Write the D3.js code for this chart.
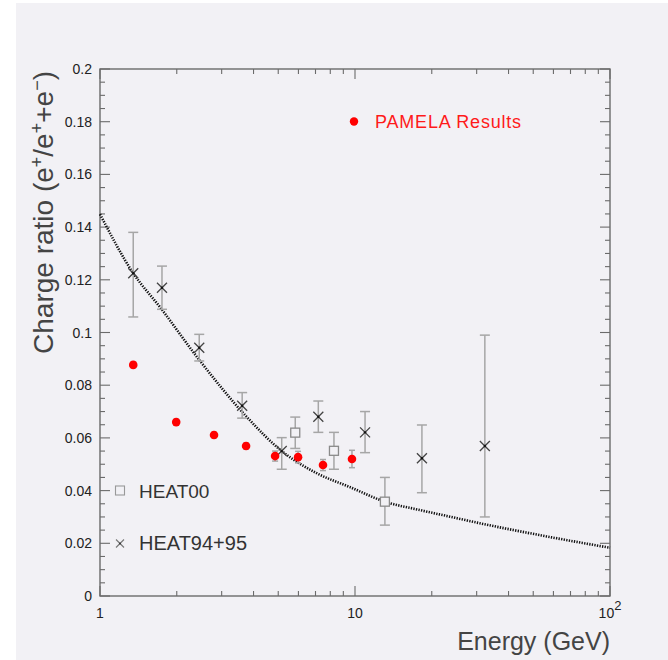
<!DOCTYPE html>
<html>
<head>
<meta charset="utf-8">
<script src="https://cdn.jsdelivr.net/npm/d3@7"></script>
<style>
  html, body { margin: 0; padding: 0; background: #ffffff; }
  svg { display: block; font-family: "Liberation Sans", Arial, Helvetica, sans-serif; }
</style>
</head>
<body>
<svg id="chart" width="668" height="660"></svg>
<script>
// PAMELA positron fraction
const pamelaEnergy = [1.35, 1.99, 2.80, 3.74, 4.86, 5.98, 7.49, 9.73];
const pamelaRatio  = [0.0877, 0.0660, 0.0611, 0.0569, 0.0531, 0.0527, 0.0497, 0.0520];
const pamelaError  = [0.0010, 0.0010, 0.0010, 0.0011, 0.0019, 0.0022, 0.0021, 0.0033];

// HEAT 94+95 flights
const heat9495Energy = [1.35, 1.75, 2.45, 3.61, 5.16, 7.18, 10.95, 18.3, 32.3];
const heat9495Ratio  = [0.1225, 0.1170, 0.0942, 0.0722, 0.0550, 0.0680, 0.0621, 0.0523, 0.0569];
const heat9495High   = [0.1380, 0.1252, 0.0993, 0.0772, 0.0601, 0.0740, 0.0700, 0.0649, 0.0990];
const heat9495Low    = [0.1059, 0.1088, 0.0892, 0.0675, 0.0481, 0.0621, 0.0544, 0.0392, 0.0300];

// HEAT 2000 flight
const heat00Energy = [5.83, 8.27, 13.1];
const heat00Ratio  = [0.0620, 0.0551, 0.0358];
const heat00High   = [0.0679, 0.0621, 0.0450];
const heat00Low    = [0.0560, 0.0481, 0.0269];

// Secondary production prediction
const modelEnergy = [1, 1.35, 1.72, 2.45, 3.76, 5.16, 7.08, 9.57, 13.1, 18, 23.6, 30.9, 48.6, 100];
const modelRatio  = [0.1449, 0.1225, 0.1096, 0.0896, 0.0680, 0.0550, 0.0466, 0.0413, 0.0358, 0.0326, 0.0301, 0.0276, 0.0238, 0.0183];

// Axis ticks
const xTickValues = [1, 10, 100];
const xTickLabels = ["1", "10", "10^2"];
const yTickValues = [0, 0.02, 0.04, 0.06, 0.08, 0.1, 0.12, 0.14, 0.16, 0.18, 0.2];
const yTickLabels = ["0", "0.02", "0.04", "0.06", "0.08", "0.1", "0.12", "0.14", "0.16", "0.18", "0.2"];

const svg = d3.select("#chart");
const W = 668, H = 660;
const frame = { left: 100, right: 610, top: 69, bottom: 596 };
const panelColor = "#f2f1f5";

svg.append("rect").attr("x", 16).attr("y", 3).attr("width", W - 16).attr("height", H - 3)
  .attr("fill", panelColor);

const x = d3.scaleLog().domain([1, 100]).range([frame.left, frame.right]);
const y = d3.scaleLinear().domain([0, 0.2]).range([frame.bottom, frame.top]);

const axisColor = "#6b6b6b";
const g = svg.append("g");

// Frame
g.append("rect")
  .attr("x", frame.left).attr("y", frame.top)
  .attr("width", frame.right - frame.left).attr("height", frame.bottom - frame.top)
  .attr("fill", "none").attr("stroke", axisColor).attr("stroke-width", 1.4);

// Ticks on all four sides, drawn inward
const xMinor = [];
[1, 10].forEach(d => { for (let k = 2; k <= 9; k++) xMinor.push(d * k); });
const yMinor = d3.range(0, 0.2001, 0.005).filter(v => Math.abs(Math.round(v / 0.02) * 0.02 - v) > 1e-6);

function tickLines(vals, len, side) {
  vals.forEach(v => {
    let x1, y1, x2, y2;
    if (side === "bottom") { x1 = x2 = x(v); y1 = frame.bottom; y2 = frame.bottom - len; }
    if (side === "top")    { x1 = x2 = x(v); y1 = frame.top; y2 = frame.top + len; }
    if (side === "left")   { y1 = y2 = y(v); x1 = frame.left; x2 = frame.left + len; }
    if (side === "right")  { y1 = y2 = y(v); x1 = frame.right; x2 = frame.right - len; }
    g.append("line").attr("x1", x1).attr("y1", y1).attr("x2", x2).attr("y2", y2)
      .attr("stroke", axisColor).attr("stroke-width", 1.1);
  });
}
tickLines(xTickValues, 10, "bottom"); tickLines(xMinor, 5, "bottom");
tickLines(xTickValues, 10, "top");    tickLines(xMinor, 5, "top");
tickLines(yTickValues, 10, "left");   tickLines(yMinor, 5, "left");
tickLines(yTickValues, 10, "right");  tickLines(yMinor, 5, "right");

// Tick labels
yTickValues.forEach((v, i) => {
  g.append("text").attr("x", frame.left - 8).attr("y", y(v) + 5)
    .attr("text-anchor", "end").attr("font-size", 14).attr("fill", "#222")
    .text(yTickLabels[i]);
});
xTickValues.forEach((v, i) => {
  const parts = xTickLabels[i].split("^");
  const t = g.append("text").attr("x", x(v)).attr("y", 618)
    .attr("text-anchor", "middle").attr("font-size", 14).attr("fill", "#222");
  t.append("tspan").text(parts[0]);
  if (parts[1]) t.append("tspan").attr("dy", -8).attr("font-size", 13).text(parts[1]);
});

// Axis titles
g.append("text").attr("x", frame.right).attr("y", 650)
  .attr("text-anchor", "end").attr("font-size", 25).attr("fill", "#444")
  .text("Energy (GeV)");

const yt = g.append("text").attr("transform", `translate(53,${frame.top + 2}) rotate(-90)`)
  .attr("text-anchor", "end").attr("font-size", 28).attr("fill", "#444");
yt.append("tspan").text("Charge ratio (e");
yt.append("tspan").attr("dy", -10).attr("font-size", 18).text("+");
yt.append("tspan").attr("dy", 10).text("/e");
yt.append("tspan").attr("dy", -10).attr("font-size", 18).text("+");
yt.append("tspan").attr("dy", 10).text("+e");
yt.append("tspan").attr("dy", -10).attr("font-size", 18).text("\u2212");
yt.append("tspan").attr("dy", 10).text(")");

// Model curve
const model = modelEnergy.map((e, i) => [e, modelRatio[i]]);
g.append("path").datum(model)
  .attr("d", d3.line().x(d => x(d[0])).y(d => y(d[1])).curve(d3.curveMonotoneX))
  .attr("fill", "none").attr("stroke", "#111").attr("stroke-width", 2.6)
  .attr("stroke-dasharray", "1.3,1.3");

const errColor = "#a6a6a6";
function errorBar(xv, lo, hi, cap) {
  const px = x(xv);
  const yl = y(lo), yh = y(hi);
  g.append("line").attr("x1", px).attr("x2", px).attr("y1", yh).attr("y2", yl)
    .attr("stroke", errColor).attr("stroke-width", 1.5);
  [yl, yh].forEach(yy => g.append("line").attr("x1", px - cap).attr("x2", px + cap)
    .attr("y1", yy).attr("y2", yy).attr("stroke", errColor).attr("stroke-width", 1.5));
}

// HEAT00: open squares
heat00Energy.forEach((e, i) => {
  errorBar(e, heat00Low[i], heat00High[i], 5);
  g.append("rect").attr("x", x(e) - 4.5).attr("y", y(heat00Ratio[i]) - 4.5)
    .attr("width", 9).attr("height", 9)
    .attr("fill", panelColor).attr("stroke", "#8a8a8a").attr("stroke-width", 1.3);
});

// HEAT94+95: crosses
function cross(cx, cy, s, color, sw) {
  g.append("path")
    .attr("d", `M${cx - s},${cy - s}L${cx + s},${cy + s}M${cx - s},${cy + s}L${cx + s},${cy - s}`)
    .attr("stroke", color).attr("stroke-width", sw).attr("fill", "none");
}
heat9495Energy.forEach((e, i) => {
  errorBar(e, heat9495Low[i], heat9495High[i], 5);
  cross(x(e), y(heat9495Ratio[i]), 5, "#444", 1.3);
  g.append("circle").attr("cx", x(e)).attr("cy", y(heat9495Ratio[i])).attr("r", 1.2).attr("fill", "#111");
});

// PAMELA: filled red circles over small error bars
pamelaEnergy.forEach((e, i) => {
  errorBar(e, pamelaRatio[i] - pamelaError[i], pamelaRatio[i] + pamelaError[i], 3);
});
pamelaEnergy.forEach((e, i) => {
  g.append("circle").attr("cx", x(e)).attr("cy", y(pamelaRatio[i])).attr("r", 4.3).attr("fill", "#ff0000");
});

// Legends
g.append("circle").attr("cx", 354).attr("cy", 121.5).attr("r", 4.2).attr("fill", "#ff0000");
g.append("text").attr("x", 375).attr("y", 128).attr("font-size", 18).attr("letter-spacing", 0.8)
  .attr("fill", "#ff1a1a").text("PAMELA Results");

g.append("rect").attr("x", 115.5).attr("y", 486).attr("width", 9).attr("height", 9)
  .attr("fill", "none").attr("stroke", "#999").attr("stroke-width", 1.1);
g.append("text").attr("x", 139).attr("y", 497.5).attr("font-size", 19).attr("fill", "#333").text("HEAT00");

cross(120, 543.5, 4, "#777", 1.1);
g.append("circle").attr("cx", 120).attr("cy", 543.5).attr("r", 1).attr("fill", "#333");
g.append("text").attr("x", 139).attr("y", 550).attr("font-size", 20).attr("fill", "#333").text("HEAT94+95");
</script>
</body>
</html>
